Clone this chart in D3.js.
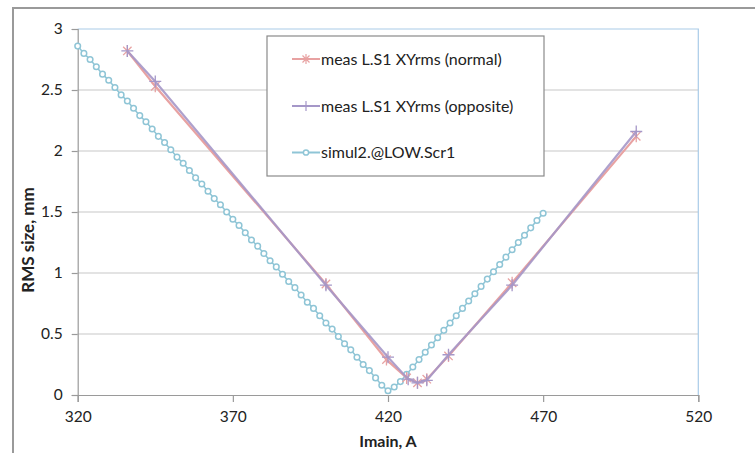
<!DOCTYPE html>
<html>
<head>
<meta charset="utf-8">
<script src="https://cdn.jsdelivr.net/npm/d3@7"></script>
<style>
  html, body { margin: 0; padding: 0; background: #fff; }
  svg { display: block; font-family: Lato, "Open Sans", sans-serif; }
</style>
</head>
<body>
<svg id="chart" width="755" height="453"></svg>
<script>
// Measured beam size, normal polarity
const normalI   = [336, 345, 400, 419.5, 426, 429.5, 432.5, 439.5, 460, 500];
const normalRms = [2.82, 2.53, 0.91, 0.29, 0.14, 0.10, 0.13, 0.32, 0.92, 2.12];

// Measured beam size, opposite polarity
const oppositeI   = [336, 345, 400, 420, 426.5, 429.5, 432.5, 439.5, 460, 500];
const oppositeRms = [2.82, 2.57, 0.90, 0.31, 0.13, 0.10, 0.12, 0.33, 0.90, 2.16];

// Simulation scan, 2 A steps
const simI = [320, 322, 324, 326, 328, 330, 332, 334, 336, 338, 340, 342, 344, 346, 348, 350,
              352, 354, 356, 358, 360, 362, 364, 366, 368, 370, 372, 374, 376, 378, 380, 382,
              384, 386, 388, 390, 392, 394, 396, 398, 400, 402, 404, 406, 408, 410, 412, 414,
              416, 418, 420, 422, 424, 426, 428, 430, 432, 434, 436, 438, 440, 442, 444, 446,
              448, 450, 452, 454, 456, 458, 460, 462, 464, 466, 468, 470];
const simRms = [2.86, 2.80, 2.75, 2.69, 2.63, 2.58, 2.52, 2.46, 2.41, 2.35, 2.29, 2.24, 2.18, 2.12, 2.07, 2.01,
                1.95, 1.90, 1.84, 1.78, 1.73, 1.67, 1.61, 1.56, 1.50, 1.44, 1.39, 1.33, 1.27, 1.22, 1.16, 1.10,
                1.05, 0.99, 0.93, 0.88, 0.82, 0.76, 0.71, 0.65, 0.59, 0.54, 0.48, 0.42, 0.37, 0.31, 0.25, 0.20,
                0.14, 0.08, 0.035, 0.065, 0.11, 0.17, 0.23, 0.29, 0.35, 0.41, 0.47, 0.53, 0.59, 0.65, 0.71, 0.77,
                0.83, 0.89, 0.95, 1.01, 1.07, 1.13, 1.19, 1.25, 1.31, 1.37, 1.43, 1.49];

const xTicks = [320, 370, 420, 470, 520];
const yTicks = [0, 0.5, 1, 1.5, 2, 2.5, 3];

const seriesNames = ["meas L.S1 XYrms (normal)", "meas L.S1 XYrms (opposite)", "simul2.@LOW.Scr1"];
const seriesColors = ["#e8a2a2", "#a597c8", "#8fc5d6"];

const svg = d3.select("#chart");
const plot = { left: 77.7, right: 698.3, top: 29, bottom: 395 };

const x = d3.scaleLinear().domain([320, 520]).range([plot.left, plot.right]);
const y = d3.scaleLinear().domain([0, 3]).range([plot.bottom, plot.top]);

// outer chart frame
svg.append("rect")
  .attr("x", 13).attr("y", 8).attr("width", 800).attr("height", 500)
  .attr("fill", "none").attr("stroke", "#9a9a9a").attr("stroke-width", 2);

// horizontal gridlines
svg.append("g")
  .selectAll("line")
  .data(yTicks.filter(d => d > 0 && d < 3))
  .join("line")
  .attr("x1", plot.left).attr("x2", plot.right)
  .attr("y1", d => y(d)).attr("y2", d => y(d))
  .attr("stroke", "#c8c8c8").attr("stroke-width", 1.2);

// plot-area border on top and right
svg.append("path")
  .attr("d", `M${plot.left},${y(3)}H${x(520)}V${plot.bottom}`)
  .attr("fill", "none").attr("stroke", "#a9cbe8").attr("stroke-width", 1.2);

// axes
const xAxis = d3.axisBottom(x).tickValues(xTicks).tickSize(7).tickPadding(9).tickFormat(d3.format("d"));
const yAxis = d3.axisLeft(y).tickValues(yTicks).tickSize(6).tickPadding(9).tickFormat(d => String(d));

const gx = svg.append("g").attr("transform", `translate(0,${plot.bottom})`).call(xAxis);
const gy = svg.append("g").attr("transform", `translate(${plot.left},0)`).call(yAxis);
[gx, gy].forEach(g => {
  g.select(".domain").attr("stroke", "#9a9a9a").attr("stroke-width", 1.2);
  g.selectAll(".tick line").attr("stroke", "#9a9a9a").attr("stroke-width", 1.2);
  g.selectAll("text").attr("fill", "#222").attr("font-size", 15.5).attr("font-family", "Lato, sans-serif");
});

// axis titles
svg.append("text")
  .attr("x", (plot.left + plot.right) / 2).attr("y", 447)
  .attr("text-anchor", "middle").attr("font-weight", "bold").attr("font-size", 16)
  .attr("fill", "#222").text("Imain, A");
svg.append("text")
  .attr("transform", "translate(34,240) rotate(-90)")
  .attr("text-anchor", "middle").attr("font-weight", "bold").attr("font-size", 17)
  .attr("fill", "#222").text("RMS size, mm");

const line = d3.line().x(d => x(d[0])).y(d => y(d[1]));

const simData = simI.map((v, i) => [v, simRms[i]]);
const normalData = normalI.map((v, i) => [v, normalRms[i]]);
const oppositeData = oppositeI.map((v, i) => [v, oppositeRms[i]]);

// marker shapes
function starPath(s) {
  const d = s * 0.7;
  return `M${-d},${-d}L${d},${d}M${-d},${d}L${d},${-d}M0,${-s}V${s}`;
}
function plusPath(s) {
  return `M${-s},0H${s}M0,${-s}V${s}`;
}

// simulation: line with open circles
svg.append("path").datum(simData)
  .attr("d", line).attr("fill", "none")
  .attr("stroke", seriesColors[2]).attr("stroke-width", 1.5);
svg.append("g").selectAll("circle").data(simData).join("circle")
  .attr("cx", d => x(d[0])).attr("cy", d => y(d[1])).attr("r", 2.8)
  .attr("fill", "#fff").attr("stroke", seriesColors[2]).attr("stroke-width", 1.5);

// measured normal
svg.append("path").datum(normalData)
  .attr("d", line).attr("fill", "none")
  .attr("stroke", seriesColors[0]).attr("stroke-width", 2.2);
svg.append("g").selectAll("path").data(normalData).join("path")
  .attr("transform", d => `translate(${x(d[0])},${y(d[1])})`)
  .attr("d", starPath(6)).attr("fill", "none")
  .attr("stroke", seriesColors[0]).attr("stroke-width", 1.3);

// measured opposite
svg.append("path").datum(oppositeData)
  .attr("d", line).attr("fill", "none")
  .attr("stroke", seriesColors[1]).attr("stroke-width", 2.2).attr("stroke-opacity", 0.9);
svg.append("g").selectAll("path").data(oppositeData).join("path")
  .attr("transform", d => `translate(${x(d[0])},${y(d[1])})`)
  .attr("d", plusPath(6)).attr("fill", "none")
  .attr("stroke", seriesColors[1]).attr("stroke-width", 1.3);

// legend
const legend = svg.append("g");
legend.append("rect")
  .attr("x", 267).attr("y", 36).attr("width", 277).attr("height", 140)
  .attr("fill", "#fff").attr("stroke", "#8a8a8a").attr("stroke-width", 1.2);
const legendY = [59, 106, 152.5];
const markers = [starPath(5), plusPath(5), null];
seriesNames.forEach((name, i) => {
  const g = legend.append("g").attr("transform", `translate(0,${legendY[i]})`);
  g.append("line").attr("x1", 292).attr("x2", 320).attr("y1", 0).attr("y2", 0)
    .attr("stroke", seriesColors[i]).attr("stroke-width", 2);
  if (markers[i]) {
    g.append("path").attr("transform", "translate(306,0)").attr("d", markers[i])
      .attr("fill", "none").attr("stroke", seriesColors[i]).attr("stroke-width", 1.2);
  } else {
    g.append("circle").attr("cx", 306).attr("cy", 0).attr("r", 2.6)
      .attr("fill", "#fff").attr("stroke", seriesColors[i]).attr("stroke-width", 1.5);
  }
  g.append("text").attr("x", 321).attr("y", 5.5)
    .attr("font-size", 16).attr("fill", "#222").text(name);
});
</script>
</body>
</html>
